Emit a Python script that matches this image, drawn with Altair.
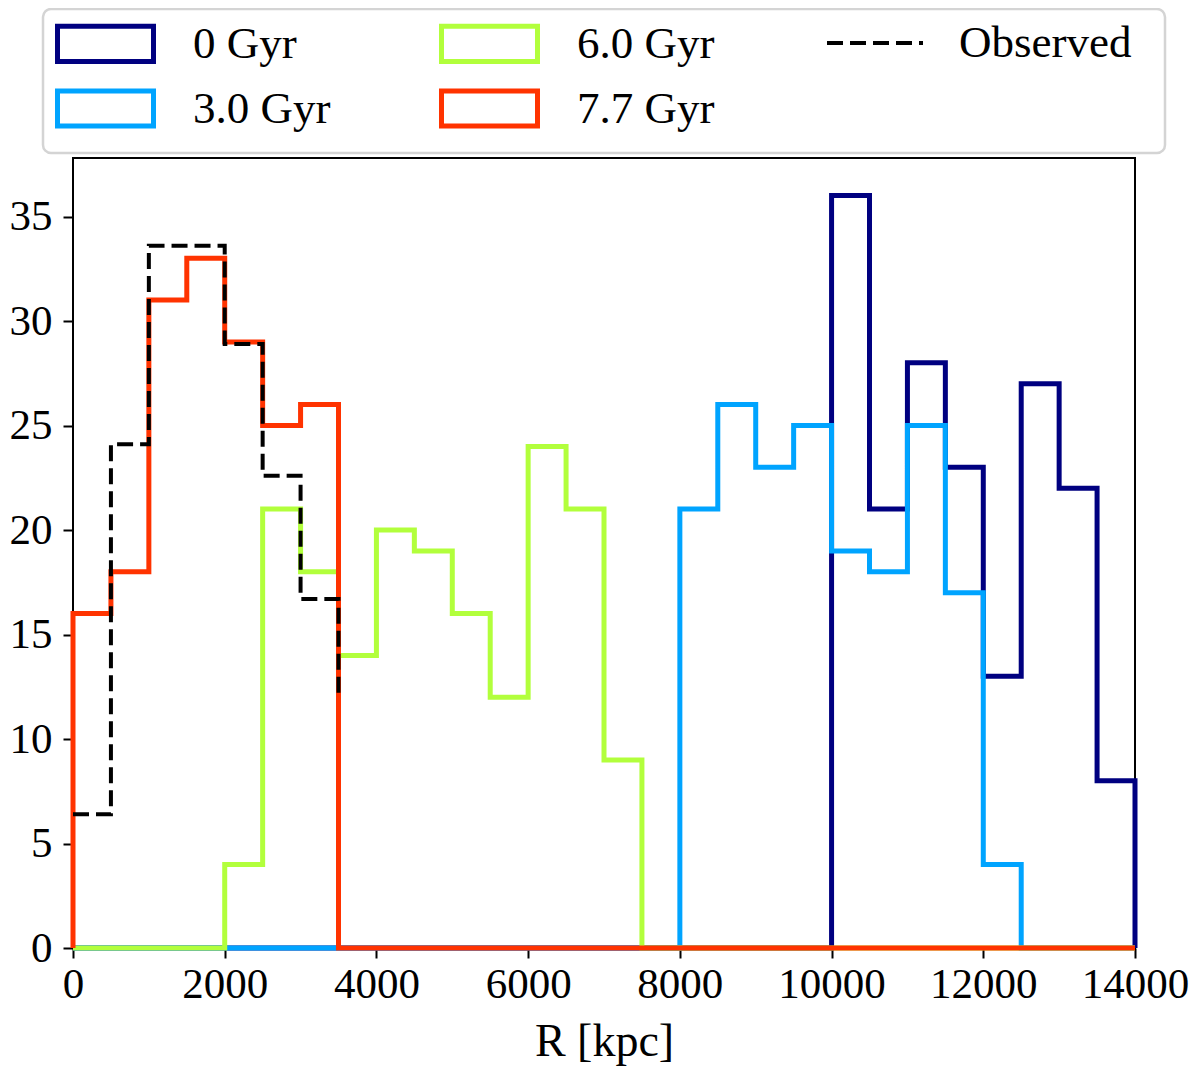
import altair as alt
import pandas as pd

# bin edges of the histograms (kpc), bin width 500
bin_edges = list(range(0, 14001, 500))

# counts per bin (28 bins from 0 to 14000)
counts_0gyr = [0, 0, 0, 0, 0, 0, 0, 0, 0, 0, 0, 0, 0, 0, 0, 0, 0, 0, 0, 0,
               36, 21, 28, 23, 13, 27, 22, 8]
counts_3gyr = [0, 0, 0, 0, 0, 0, 0, 0, 0, 0, 0, 0, 0, 0, 0, 0,
               21, 26, 23, 25, 19, 18, 25, 17, 4, 0, 0, 0]
counts_6gyr = [0, 0, 0, 0,
               4, 21, 18, 14, 20, 19, 16, 12, 24, 21, 9,
               0, 0, 0, 0, 0, 0, 0, 0, 0, 0, 0, 0, 0]
counts_77gyr = [16, 18, 31, 33, 29, 25, 26,
                0, 0, 0, 0, 0, 0, 0, 0, 0, 0, 0, 0, 0, 0, 0, 0, 0, 0, 0, 0, 0]

# observed profile (step line)
observed_r = [0, 500, 1000, 1500, 2000, 2500, 3000, 3500]
observed_n = [6.4, 24.1, 33.6, 33.6, 28.9, 22.6, 16.7, 11.9]

series = {
    "0 Gyr": counts_0gyr,
    "3.0 Gyr": counts_3gyr,
    "6.0 Gyr": counts_6gyr,
    "7.7 Gyr": counts_77gyr,
}
series_names = list(series)
series_colors = ["#000080", "#00a4ff", "#b2ff3c", "#ff3300"]

rows = []
for name, counts in series.items():
    rows.append({"series": name, "r": bin_edges[0], "n": 0, "i": 0})
    for k, c in enumerate(counts):
        rows.append({"series": name, "r": bin_edges[k], "n": c, "i": k + 1})
    rows.append({"series": name, "r": bin_edges[-1], "n": 0, "i": len(counts) + 1})
hist_df = pd.DataFrame(rows)

obs_df = pd.DataFrame({
    "obs": "Observed",
    "r": observed_r,
    "n": observed_n,
    "i": range(len(observed_r)),
})

LEG_X = -2
LEG_Y = -149
FONT = "Liberation Serif"
LW = 5

x_enc = alt.X(
    "r:Q",
    title="R [kpc]",
    scale=alt.Scale(domain=[0, 14000], nice=False),
    axis=alt.Axis(values=list(range(0, 14001, 2000)), format="d",
                  labelFlush=False, labelOverlap=False),
)
y_enc = alt.Y(
    "n:Q",
    title=None,
    scale=alt.Scale(domain=[0, 37.8], nice=False),
    axis=alt.Axis(values=[0, 5, 10, 15, 20, 25, 30, 35]),
)

# legend frame (decoration, pixel space)
frame = alt.Chart(pd.DataFrame({"a": [0]})).mark_rect(
    fill="white", stroke="#d4d4d4", strokeWidth=2.5, cornerRadius=8
).encode(
    x=alt.value(-30), x2=alt.value(1092),
    y=alt.value(-149), y2=alt.value(-5),
)

hist_legend = alt.Legend(
    title=None,
    orient="none",
    legendX=LEG_X,
    legendY=LEG_Y,
    columns=2,
    columnPadding=100,
    rowPadding=2,
    padding=0,
    symbolType="M-1.5,-0.55H1.5V0.55H-1.5Z",
    symbolSize=4096,
    symbolStrokeWidth=LW,
    symbolFillColor="transparent",
    labelOffset=53,
    labelFont=FONT,
    labelFontSize=45,
    labelColor="black",
    labelLimit=400,
)

obs_legend = alt.Legend(
    title=None,
    orient="none",
    legendX=LEG_X + 770,
    legendY=LEG_Y,
    padding=0,
    symbolType="M-1.5,0H1.5",
    symbolSize=4096,
    symbolStrokeWidth=4,
    symbolStrokeColor="black",
    symbolDash=[16, 7],
    labelOffset=50,
    labelFont=FONT,
    labelFontSize=45,
    labelColor="black",
    labelLimit=400,
)

hist = alt.Chart(hist_df).mark_line(interpolate="step-after", strokeWidth=LW).encode(
    x=x_enc,
    y=y_enc,
    color=alt.Color("series:N",
                    scale=alt.Scale(domain=series_names, range=series_colors),
                    legend=hist_legend),
    order=alt.Order("i:Q"),
)

layers = [hist.transform_filter(alt.datum.series == name) for name in series_names]

observed = alt.Chart(obs_df).mark_line(
    interpolate="step-after", strokeWidth=4, color="black"
).encode(
    x=x_enc,
    y=y_enc,
    strokeDash=alt.StrokeDash("obs:N",
                              scale=alt.Scale(domain=["Observed"], range=[[16, 7]]),
                              legend=obs_legend),
    order=alt.Order("i:Q"),
)

chart = alt.layer(frame, *layers, observed).properties(
    width=1062,
    height=790,
    autosize="none",
    padding={"left": 65, "top": 150, "right": 54, "bottom": 121},
).configure_view(
    stroke="black",
    strokeWidth=2,
).configure_axis(
    domain=False,
    grid=False,
    tickColor="black",
    tickWidth=2,
    tickSize=10,
    labelFont=FONT,
    labelFontSize=43,
    labelColor="black",
    titleFont=FONT,
    titleFontSize=46,
    titleFontWeight="normal",
    titleColor="black",
).configure_axisX(
    labelPadding=5,
    titlePadding=13,
).configure_axisY(
    labelPadding=11,
)

chart.save("out.html", embed_options={"renderer": "svg", "actions": False})
